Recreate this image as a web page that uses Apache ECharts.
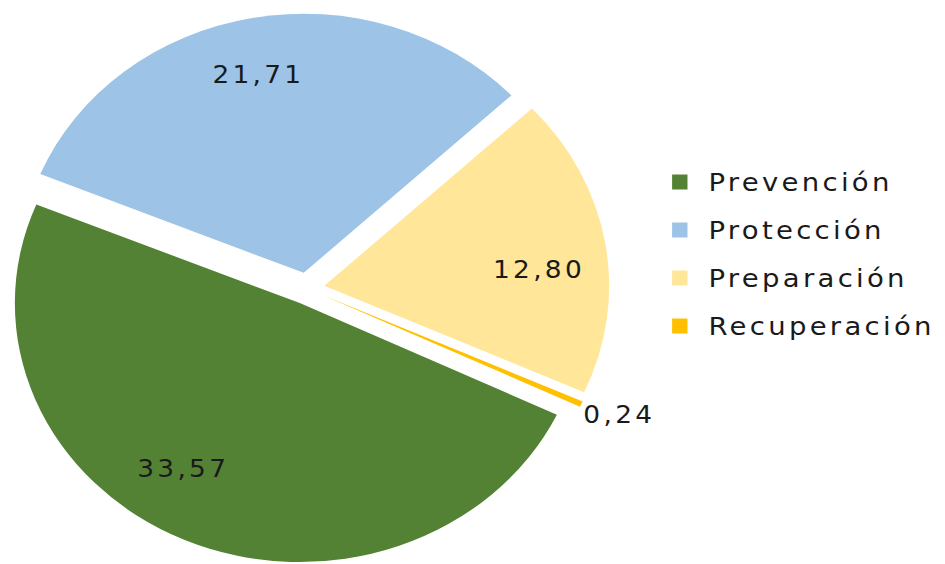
<!DOCTYPE html>
<html>
<head>
<meta charset="utf-8">
<script src="https://cdn.jsdelivr.net/npm/echarts@6/dist/echarts.min.js"></script>
<style>
  html, body { margin: 0; padding: 0; background: #ffffff; overflow: hidden; }
  /* the chart is laid out narrower and widened horizontally, giving an elliptical pie */
  #chart { width: 859px; height: 564px; transform: scaleX(1.1); transform-origin: 0 0; }
  #chart svg text { letter-spacing: 3px; }
</style>
</head>
<body>
<div id="chart"></div>
<script>
const categories = ['Prevención', 'Protección', 'Preparación', 'Recuperación'];
const values = [33.57, 21.71, 12.80, 0.24];
const colors = ['#548235', '#9DC3E6', '#FFE699', '#FFC000'];

const fmt = v => Number(v).toFixed(2).replace('.', ',');
const FONT = 'DejaVu Sans';
const TEXT = '#1a1a1a';
const CENTER = [279, 288.5];
const R = 259;
const START = -25.5;
const EXPLODE = 16;

// nudges that move each value label off the slice bisector
const labelShift = [[-23.5, -20], [-4.5, 2], [-5, 18], [0, 10]];
const shiftLabel = p => ({ dx: labelShift[p.dataIndex][0], dy: labelShift[p.dataIndex][1] });

const chart = echarts.init(document.getElementById('chart'), null, { renderer: 'svg' });

// main slices; only the tiny slice carries its own outside label
const sliceData = categories.map((name, i) => ({
  name,
  value: values[i],
  selected: true,
  itemStyle: { color: colors[i] },
  label: i === 3
    ? { show: true, position: 'outside', formatter: p => fmt(p.value),
        fontFamily: FONT, fontSize: 24, color: TEXT, distanceToLabelLine: 0 }
    : { show: false },
  labelLine: { show: false, length: 2, length2: 0 }
}));

// transparent ring that places the inside value labels further out
const labelData = categories.map((name, i) => ({
  name,
  value: values[i],
  selected: true,
  itemStyle: { color: 'rgba(0,0,0,0)' },
  label: { show: i !== 3 }
}));

chart.setOption({
  animation: false,
  backgroundColor: '#ffffff',
  legend: {
    orient: 'vertical',
    left: 611,
    top: 167,
    padding: 0,
    data: categories,
    icon: 'rect',
    itemWidth: 14,
    itemHeight: 15,
    itemGap: 18,
    selectedMode: false,
    textStyle: { fontFamily: FONT, fontSize: 25, color: TEXT, lineHeight: 30, padding: [0, 0, 0, 14] }
  },
  series: [
    {
      type: 'pie',
      center: CENTER,
      radius: [0, R],
      startAngle: START,
      clockwise: true,
      selectedMode: 'multiple',
      selectedOffset: EXPLODE,
      avoidLabelOverlap: false,
      silent: true,
      labelLayout: shiftLabel,
      data: sliceData
    },
    {
      type: 'pie',
      center: CENTER,
      radius: [141, R],
      startAngle: START,
      clockwise: true,
      selectedMode: 'multiple',
      selectedOffset: EXPLODE,
      avoidLabelOverlap: false,
      silent: true,
      labelLayout: shiftLabel,
      label: {
        show: true,
        position: 'inside',
        formatter: p => fmt(p.value),
        fontFamily: FONT,
        fontSize: 24,
        color: TEXT
      },
      labelLine: { show: false },
      data: labelData
    }
  ]
});
</script>
</body>
</html>
